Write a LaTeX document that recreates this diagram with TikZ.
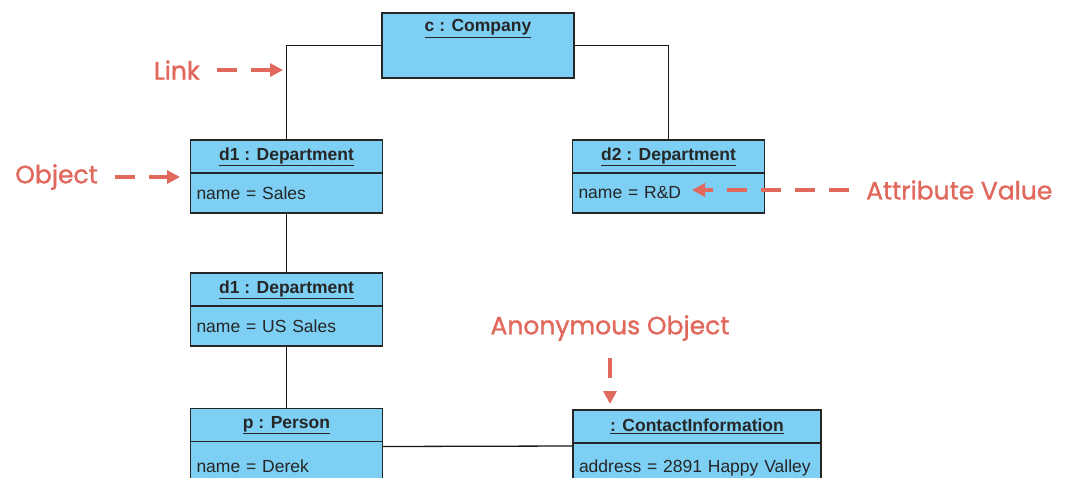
\documentclass[tikz,border=0pt]{standalone}
\usepackage{fontspec}
\setmainfont{Liberation Sans}
\newfontfamily\notefont[FakeBold=1.2]{Poppins}
\usetikzlibrary{positioning, arrows.meta}
\definecolor{objblue}{RGB}{125,207,244}
\definecolor{notered}{RGB}{224,104,92}
\tikzset{
x=1pt, y=-1pt, % one unit is one pixel of the reference, y grows downwards
objhead/.style={draw=black!85, fill=objblue, line width=1.3pt, outer sep=0pt, minimum width=192pt, minimum height=33pt, inner sep=0pt, text=black!85, font=\fontsize{17.5}{19}\selectfont\bfseries}, % name compartment of an object
objattr/.style={draw=black!85, fill=objblue, line width=1.3pt, outer sep=0pt, minimum height=40pt, text width=180pt, inner xsep=6pt, inner ysep=0pt, align=left, text=black!85, font=\fontsize{17.5}{19}\selectfont}, % attribute compartment
link/.style={draw=black!90, line width=1.3pt}, % links between objects
note/.style={text=notered, inner sep=0pt, font=\notefont\fontsize{25}{27}\selectfont}, % red annotations
notearrow/.style={draw=notered, line width=4pt, dash pattern=on 20pt off 14pt, shorten <=17pt, -{Triangle[length=13pt,width=13pt]}},
}
\begin{document}
\begin{tikzpicture}
       \useasboundingbox (0,0) rectangle (1068,477);
       \clip (0,0) rectangle (1068,477);

       % objects
       \node[objhead, minimum height=65pt] (comp) at (478,45.5) {};
       \node[font=\fontsize{17.5}{19}\selectfont\bfseries, text=black!85, anchor=north] (comptitle) at ([yshift=-3pt]comp.north) {\underline{c : Company}};

       \node[objhead] (d1head) at (286.5,156.5) {\underline{d1 : Department}};
       \node[objattr, below=0pt of d1head] (d1attr) {name = Sales};

       \node[objhead] (d2head) at (668.5,156.5) {\underline{d2 : Department}};
       \node[objattr, below=0pt of d2head] (d2attr) {name = R\&D};

       \node[objhead] (d3head) at (286.5,289.5) {\underline{d1 : Department}};
       \node[objattr, below=0pt of d3head] (d3attr) {name = US Sales};

       \node[objhead] (phead) at (286.5,425) {\underline{p : Person}};
       \node[objattr, minimum height=50pt, below=0pt of phead] (pattr) {name = Derek\\[12pt]};

       \node[objhead, minimum width=248pt] (cihead) at (697,426.5) {\underline{: ContactInformation}};
       \node[objattr, text width=236pt, minimum height=50pt, below=0pt of cihead] (ciattr) {address = 2891 Happy Valley\\[12pt]};

       % links
       \draw[link] (comp.west) -| (d1head.north);
       \draw[link] (comp.east) -| (d2head.north);
       \draw[link] (d1attr.south) -- (d3head.north);
       \draw[link] (d3attr.south) -- (phead.north);
       \draw[link] ([yshift=-5pt]phead.south east) -- ([yshift=-3pt]cihead.south west);

       % annotations
       \coordinate (linkpt) at (283,70);
       \coordinate (objpt) at (180,177);
       \coordinate (attrpt) at (692,190);
       \coordinate (anonpt) at (610,404);
       \node[note, left=83pt of linkpt] (linknote) {Link};
       \node[note, left=82pt of objpt] (objnote) {Object};
       \node[note, right=174pt of attrpt] (attrnote) {Attribute Value};
       \node[note, above=63pt of anonpt] (anonnote) {Anonymous Object};

       \draw[notearrow] (linknote) -- (linkpt);
       \draw[notearrow] (objnote) -- (objpt);
       \draw[notearrow] (attrnote) -- (attrpt);
       \draw[notearrow] (anonnote) -- (anonpt);
\end{tikzpicture}
\end{document}
